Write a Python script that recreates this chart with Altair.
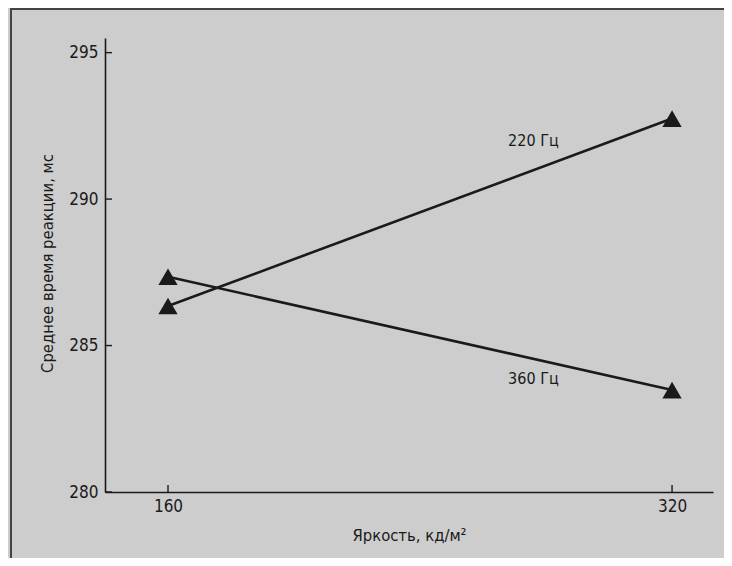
import altair as alt
import pandas as pd

# Data
brightness = [160, 320]
rt_220 = [286.35, 292.75]
rt_360 = [287.35, 283.48]
series_labels = ["220 Гц", "360 Гц"]
label_x = [276, 276]
label_y = [292.0, 283.85]
y_ticks = [280, 285, 290, 295]
x_ticks = [160, 320]

FONT = "Liberation Sans Narrow, DejaVu Sans Condensed, Arial Narrow, sans-serif"
INK = "#1a1a1a"
BG = "#cdcdcd"

rows = []
for b, v in zip(brightness, rt_220):
    rows.append({"b": b, "rt": v, "s": "220 Гц"})
for b, v in zip(brightness, rt_360):
    rows.append({"b": b, "rt": v, "s": "360 Гц"})
df = pd.DataFrame(rows)
lab = pd.DataFrame({"x": label_x, "y": label_y, "t": series_labels})
ytk = pd.DataFrame({"v": y_ticks})
xtk = pd.DataFrame({"v": x_ticks})

xs = alt.Scale(domain=[140, 333], nice=False, zero=False)
ys = alt.Scale(domain=[280, 295.5], nice=False, zero=False)

W, H = 608, 454

base_x = alt.X("b:Q", scale=xs,
               axis=alt.Axis(values=x_ticks, ticks=False, grid=False,
                             title="Яркость, кд/м²", titleY=43, titleBaseline="middle",
                             labelPadding=6, domainWidth=1.6, domainColor=INK))
base_y = alt.Y("rt:Q", scale=ys,
               axis=alt.Axis(values=y_ticks, ticks=False, grid=False,
                             title="Среднее время реакции, мс", titleX=-58, titleY=225,
                             titleAngle=-90, titleAlign="center", titleBaseline="middle",
                             labelPadding=7, domainWidth=1.6, domainColor=INK))

lines = alt.Chart(df).mark_line(color=INK, strokeWidth=2.6).encode(
    x=base_x, y=base_y, detail="s:N")
pts = alt.Chart(df).mark_point(shape="triangle-up", filled=True, size=370,
                               color=INK, opacity=1).encode(
    x=alt.X("b:Q", scale=xs), y=alt.Y("rt:Q", scale=ys))
texts = alt.Chart(lab).mark_text(font=FONT, fontSize=16, color=INK).encode(
    x=alt.X("x:Q", scale=xs), y=alt.Y("y:Q", scale=ys), text="t:N")
ytick = alt.Chart(ytk).mark_rule(color=INK, strokeWidth=1.4).encode(
    y=alt.Y("v:Q", scale=ys), x=alt.value(0), x2=alt.value(7))
xtick = alt.Chart(xtk).mark_rule(color=INK, strokeWidth=1.4).encode(
    x=alt.X("v:Q", scale=xs), y=alt.value(H), y2=alt.value(H - 7))
frame_left = alt.Chart(ytk).mark_rule(color="#444", strokeWidth=2).encode(
    x=alt.value(-94), y=alt.value(-30), y2=alt.value(H + 70))
frame_top = alt.Chart(ytk).mark_rule(color="#444", strokeWidth=2).encode(
    y=alt.value(-29), x=alt.value(-94), x2=alt.value(W + 20))

chart = alt.layer(frame_left, frame_top, lines, pts, ytick, xtick, texts).properties(
    width=W, height=H, background=BG,
    padding={"left": 97, "top": 30, "right": 11, "bottom": 66},
    autosize=alt.AutoSizeParams(type="none"),
).configure_view(stroke=None).configure_axis(
    labelFont=FONT, titleFont=FONT, labelFontSize=17, titleFontSize=16.5,
    titleFontWeight="normal", labelColor=INK, titleColor=INK,
)

chart.save("out.html", embed_options={"renderer": "svg", "actions": False})
